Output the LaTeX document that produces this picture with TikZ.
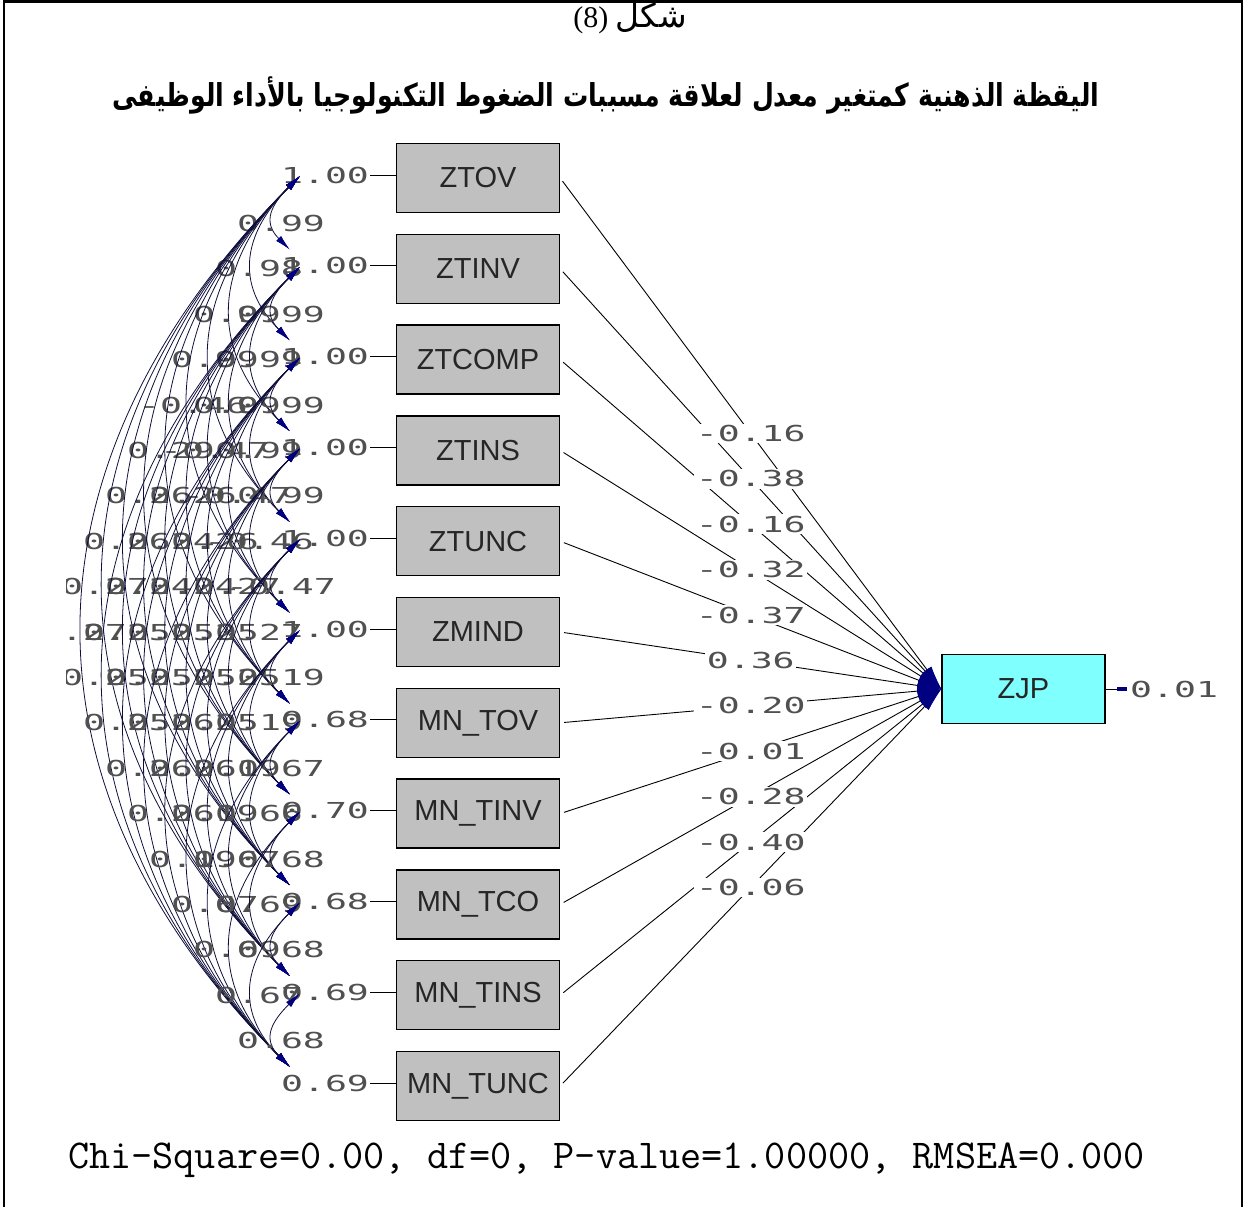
\documentclass[tikz,border=0pt]{standalone}
\usepackage{fontspec}
\usepackage{graphicx}
\usetikzlibrary{arrows.meta,calc}
\TeXXeTstate=1
\setmainfont{Liberation Serif}
\newfontfamily\arabicfont[Script=Arabic]{DejaVu Sans}
\newfontfamily\boxfont{Liberation Sans}
\newfontfamily\estfont{DejaVu Sans Mono}
\definecolor{boxgray}{RGB}{192,192,192}
\definecolor{latentcyan}{RGB}{128,255,255}
\definecolor{tipnavy}{RGB}{0,0,128}
\definecolor{estgray}{RGB}{80,80,80}
\definecolor{arcink}{RGB}{15,15,60}
% wide monospaced estimates, as printed by the path-diagram program
\newcommand{\est}[1]{\scalebox{1.66}[1]{\fontsize{22}{22}\selectfont\estfont #1}}
\begin{document}
\begin{tikzpicture}[x=1pt,y=-1pt,
  obs/.style={draw=black, line width=1.3pt, fill=boxgray, minimum width=163pt,
    minimum height=69pt, inner sep=0pt, text=black!85,
    font=\boxfont\fontsize{29}{29}\selectfont},
  latent/.style={obs, fill=latentcyan},
  estlabel/.style={inner sep=0pt, text=estgray},
  cov/.style={draw=arcink, line width=0.8pt, <->,
    >={Latex[length=16pt,width=7pt,color=tipnavy]}},
  regpath/.style={draw=black, line width=0.9pt, ->, shorten <=4pt,
    >={Latex[length=24pt,width=11pt,color=tipnavy]}},
  errtip/.style={draw=black, line width=0.9pt, shorten >=3pt,
    -{Rectangle[length=10pt,width=4pt,color=tipnavy]}}]
\useasboundingbox (0,0) rectangle (1246,1207);

% page frame
\draw[line width=2.5pt] (4,1207) -- (4,1.5) -- (1242,1.5) -- (1242,1207);

% headings
\node (title) at (630,18) {\fontsize{30}{30}\selectfont\beginR{\arabicfont\fontsize{33}{33}\selectfont شكل}\ \beginL(8)\endL\endR};
\node (subtitle) at (606,95) {\scalebox{1}[1.25]{\resizebox{987pt}{!}{\arabicfont\bfseries\beginR اليقظة الذهنية كمتغير معدل لعلاقة مسببات الضغوط التكنولوجيا بالأداء الوظيفى\endR}}};

% observed exogenous variables
\foreach \name [count=\i] in {ZTOV,ZTINV,ZTCOMP,ZTINS,ZTUNC,ZMIND,MN\_TOV,MN\_TINV,MN\_TCO,MN\_TINS,MN\_TUNC} {
  \pgfmathsetmacro\yy{178+90.8*(\i-1)}
  \node[obs] (v\i) at (478,\yy) {\name};
  \coordinate (top\i) at (300,\yy-2);
  \coordinate (bot\i) at (290,\yy-19);
}

% dependent variable
\node[latent] (zjp) at (1023.5,689) {ZJP};

% variances
\foreach \vv [count=\i] in {1.00,1.00,1.00,1.00,1.00,1.00,0.68,0.70,0.68,0.69,0.69} {
  \pgfmathsetmacro\yy{178+90.8*(\i-1)-3}
  \node[estlabel] (var\i) at (325,\yy) {\est{\vv}};
  \draw[line width=0.9pt, shorten <=1pt] (var\i.east) -- (var\i.east -| v\i.west);
}

% covariance arcs and their estimates
\begin{scope}
\clip (66,0) rectangle (1246,1207);
\foreach \i/\j/\r in {
  1/2/0.99,1/3/0.98,1/4/0.99,1/5/0.99,1/6/-0.46,1/7/0.29,1/8/0.26,1/9/0.26,1/10/0.27,1/11/0.27,
  2/3/0.99,2/4/0.99,2/5/0.99,2/6/-0.47,2/7/0.26,2/8/0.24,2/9/0.24,2/10/0.25,2/11/0.25,
  3/4/0.99,3/5/0.99,3/6/-0.47,3/7/0.26,3/8/0.24,3/9/0.25,3/10/0.25,3/11/0.25,
  4/5/0.99,4/6/-0.46,4/7/0.27,4/8/0.25,4/9/0.25,4/10/0.26,4/11/0.26,
  5/6/-0.47,5/7/0.27,5/8/0.25,5/9/0.25,5/10/0.26,5/11/0.26,
  6/7/0.19,6/8/0.19,6/9/0.19,6/10/0.19,6/11/0.19,
  7/8/0.67,7/9/0.66,7/10/0.67,7/11/0.67,
  8/9/0.68,8/10/0.69,8/11/0.69,
  9/10/0.68,9/11/0.67,
  10/11/0.68} {
  \pgfmathtruncatemacro\kk{\j-\i}
  \pgfmathsetmacro\hoff{28.3*\kk}
  \pgfmathsetmacro\voff{min(\hoff,0.48*(90.8*\kk-17))}
  \draw[cov] (top\i) .. controls +(-\hoff,\voff) and +(-\hoff,-\voff) .. (bot\j);
  \pgfmathsetmacro\cx{303-22*\kk}
  \pgfmathsetmacro\cy{178+90.8*(\i+\j-2)/2}
  \node[estlabel] (c\i-\j) at (\cx,\cy) {\est{\r}};
}
\end{scope}

% regression paths to ZJP
\foreach \i in {1,...,11}
  \draw[regpath] (v\i.east) -- (zjp.west);
\foreach \c [count=\i] in {-0.16,-0.38,-0.16,-0.32,-0.37,0.36,-0.20,-0.01,-0.28,-0.40,-0.06}
  \node[estlabel, fill=white, inner sep=1.5pt] (p\i) at ($(v\i.east)!0.5!(zjp.west)$) {\est{\c}};

% error variance of ZJP
\node[estlabel, anchor=west] (err) at (1130,689) {\est{0.01}};
\draw[errtip] (zjp.east) -- (err.west);

% fit statistics
\node[anchor=west, inner sep=0pt] (fit) at (68,1160) {\fontsize{41}{41}\selectfont\ttfamily Chi-Square=0.00, df=0, P-value=1.00000, RMSEA=0.000};
\end{tikzpicture}
\end{document}
